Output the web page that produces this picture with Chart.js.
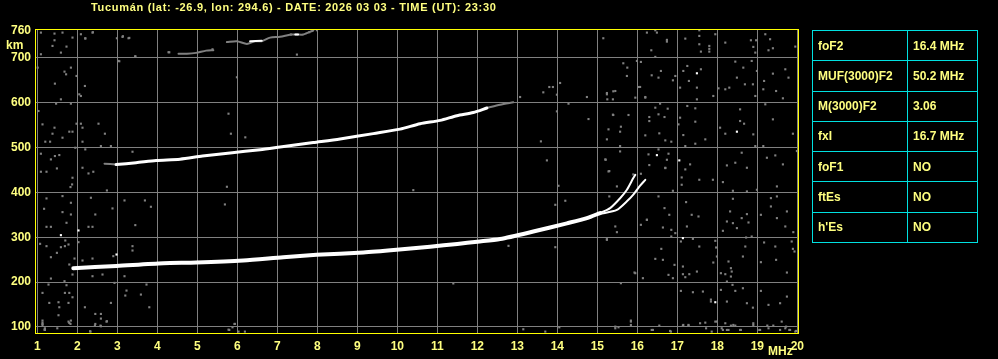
<!DOCTYPE html>
<html>
<head>
<meta charset="utf-8">
<title>Ionogram Tucumán</title>
<script src="https://cdn.jsdelivr.net/npm/chart.js@4.4.1/dist/chart.umd.min.js"></script>
<style>
  body { margin: 0; background: #000; width: 998px; height: 359px; overflow: hidden; position: relative;
         font-family: "Liberation Sans", Arial, sans-serif; font-weight: bold; color: #ffff80; }
  canvas { position: absolute; left: 0; top: 0; }
  .lbl { position: absolute; white-space: nowrap; font-size: 12px; line-height: 14px; }
  #title { left: 91px; top: 0px; font-size: 11px; letter-spacing: 0.7px; }
  #km { left: 6px; top: 38px; }
  #mhz { left: 768px; top: 344px; }
  #params { position: absolute; left: 812px; top: 30px; border-collapse: collapse; }
  #params td { border: 1px solid #00e0e0; height: 30.25px; padding: 0 0 0 5px; font-size: 12px;
               color: #ffff80; box-sizing: border-box; }
</style>
</head>
<body>
<canvas id="ionoChart" width="998" height="359"></canvas>
<div id="title" class="lbl">Tucumán (lat: -26.9, lon: 294.6) - DATE: 2026 03 03 - TIME (UT): 23:30</div>
<div id="km" class="lbl">km</div>
<div id="mhz" class="lbl">MHz</div>
<table id="params"></table>
<script>
// axis ticks
var freqTicks = [1, 2, 3, 4, 5, 6, 7, 8, 9, 10, 11, 12, 13, 14, 15, 16, 17, 18, 19, 20];
var heightTicks = [100, 200, 300, 400, 500, 600, 700, 760];

// scaled parameters (right hand table)
var paramNames = ['foF2', 'MUF(3000)F2', 'M(3000)F2', 'fxI', 'foF1', 'ftEs', "h'Es"];
var paramValues = ['16.4 MHz', '50.2 MHz', '3.06', '16.7 MHz', 'NO', 'NO', 'NO'];

// F2 trace (first hop), MHz / km
var f2Freq = [1.9, 2.98, 4.15, 4.98, 6.15, 7.15, 7.98, 9.15, 9.98, 10.82, 11.5, 12.0, 12.57, 13.4, 14.24, 14.74, 15.07];
var f2Height = [231, 236, 242, 243.5, 248, 255.5, 260.7, 266, 272, 279, 285, 290, 296, 312.7, 331, 342.6, 354];

// the two cusps near foF2 / fxI
var oCuspFreq = [15.07, 15.32, 15.57, 15.74, 15.9, 15.95];
var oCuspHeight = [354, 365, 387, 406, 432, 439];
var xCuspFreq = [15.07, 15.49, 15.74, 15.9, 16.05, 16.2];
var xCuspHeight = [352, 361, 380, 395, 413, 428];

// second hop trace
var hop2Freq = [2.97, 3.47, 3.97, 4.57, 5.13, 5.82, 6.57, 7.07, 7.9, 8.57, 9.4, 10.07, 10.57, 11.07, 11.49, 11.9, 12.24];
var hop2Height = [462, 466, 471, 474, 481, 488, 495, 501, 511, 519, 531, 541, 553, 560.5, 571, 578, 588];
var hop2FaintFreq = [2.68, 2.97, null, 12.24, 12.57, 12.9];
var hop2FaintHeight = [464, 462, null, 588, 595.5, 600.7];

// third hop trace (faint, broken)
var hop3Freq = [4.53, 4.74, 4.97, 5.22, 5.4, null, 5.74, 5.99, 6.24, 6.45, 6.61, 6.82, 7.07, 7.34, 7.49, 7.65, 7.9];
var hop3Height = [709, 709, 711, 716, 717, null, 735, 737, 731, 737, 737, 745, 747, 752, 752, 752, 761];
var hop3BrightFreq = [6.32, 6.61, null, 7.45, 7.52];
var hop3BrightHeight = [737, 738, null, 752, 752];

// isolated bright echoes
var brightDots = [[17.49, 665.5], [18.49, 535.3], [16.49, 483], [17.05, 471.3], [17.14, 298], [17.95, 155.1],
  [2.03, 315.1], [1.59, 304.6], [2.98, 261.5]];

// background noise echoes [MHz, km]
var noiseDots = [
  [15.15, 743.6], [16.24, 756.2], [16.45, 761.4], [16.49, 756.2], [16.74, 736.1], [16.74, 740], [17.2, 742.8], [17.55, 761.4],
  [17.55, 748.8], [17.55, 730.2], [17.59, 713.8], [17.8, 726.5], [17.8, 713.8], [17.8, 720], [17.95, 752.5], [18.2, 733.9],
  [18.84, 739.1], [18.97, 739.1], [18.9, 724.3], [18.95, 711.6], [19.2, 752.5], [19.32, 741.4], [19.28, 716.8], [19.39, 721.3],
  [19.95, 725], [15.65, 687.8], [15.75, 678.1], [15.99, 693], [16.09, 690.8], [16.35, 716.8], [16.45, 702], [15.74, 659.5],
  [16.36, 661], [16.07, 635], [16.53, 655.8], [16.59, 670.7], [16.89, 649.8], [16.95, 659.5], [17.15, 670.7], [17.25, 681.8],
  [17.29, 648.4], [17.59, 674.4], [17.49, 633.5], [17.49, 607.4], [17.07, 633.5], [17.25, 592.6], [17.45, 587.4], [16.76, 586.6],
  [16.57, 597.8], [16.45, 588.8], [16.3, 568], [16.53, 574], [16.68, 568], [16.3, 559], [15.78, 572.5], [15.59, 546.4],
  [15.28, 540.5], [15.57, 535.3], [15.4, 572.5], [15.24, 618.6], [15.45, 626], [15.95, 611.2], [16.2, 611.2], [15.25, 607.4],
  [15.39, 607.4], [15.24, 518.2], [15.57, 503.3], [15.2, 473.5], [15.3, 447.5], [15.9, 440], [16.09, 441.5], [16.28, 484.7],
  [16.3, 460.9], [16.53, 495.8], [16.7, 454.9], [16.78, 486.2], [16.85, 513], [16.55, 531.6], [16.2, 527.1], [16.7, 515.9],
  [17.07, 566.5], [17.03, 551.6], [17.15, 527.8], [17.2, 503.3], [17.32, 462.4], [17.2, 451.2], [17.45, 557.6], [17.45, 508.5],
  [17.7, 518.2], [18.07, 544.2], [18.2, 530.8], [18.2, 629.8], [18.3, 633.5], [18.49, 655.8], [18.57, 559.1], [18.67, 553.1],
  [18.61, 488.4], [18.45, 466.1], [18.24, 460.1], [18.74, 454.9], [18.95, 503.3], [19.15, 503.3], [19.24, 477.2], [19.45, 482.4],
  [19.64, 462.4], [19.99, 492.1], [19.89, 530.8], [19.39, 562.8], [19.2, 596.3], [18.95, 614.9], [19.15, 629.8], [19.47, 626],
  [19.64, 609.7], [19.7, 674.4], [19.78, 655.8], [19.39, 664.7], [19.17, 648.4], [18.65, 678.1], [18.86, 693], [18.99, 670.7],
  [18.69, 640.9], [18.89, 640.9], [18.9, 529.3], [18.57, 585.1], [18.45, 691.5], [18.03, 632], [17.9, 614.9],
  [15.49, 413.3], [15.3, 391], [15.45, 324], [15.49, 311.3], [15.24, 294.2], [15.93, 221.3], [16.14, 208.7], [15.59, 197.5],
  [15.84, 114.2], [15.45, 97], [16.36, 93.3], [16.09, 327.7], [16.24, 338.9], [16.53, 391], [16.68, 364.9], [16.64, 321.7],
  [16.8, 350], [16.85, 316.5], [16.85, 301.6], [16.95, 309.1], [16.89, 403.6], [17.11, 433.3], [17.11, 417], [17.22, 378.3],
  [17.36, 350], [17.53, 346.3], [17.24, 324], [17.55, 428.1], [17.89, 428.1], [18.14, 422.9], [17.09, 290.5], [17.39, 296.4],
  [17.55, 279.3], [17.95, 292], [17.99, 257], [17.9, 243.6], [17.97, 277.1], [18.28, 245.9], [16.6, 274.1], [16.45, 251.8],
  [16.64, 249.6], [16.93, 238.4], [17.14, 234.7], [17.49, 223.5], [17.2, 210.9], [16.78, 216.1], [16.89, 208.7], [17.14, 217.6],
  [17.3, 217.6], [18.09, 219.8], [18.2, 217.6], [18.34, 212.4], [18.38, 193.8], [18.24, 201.2], [18.36, 223.5], [17.09, 180.4],
  [17.39, 177.4], [17.64, 178.9], [17.84, 156.6], [17.84, 161], [18.09, 182.6], [18.24, 156.6], [18.45, 180.4], [18.64, 186.3],
  [18.74, 152.9], [18.89, 143], [19.09, 180.4], [19.28, 149.2], [19.57, 152.9], [19.74, 167.7], [19.86, 290.5], [19.93, 268.2],
  [19.89, 274.1], [19.74, 221.3], [19.45, 279.3], [19.17, 288.3], [19.09, 244.4], [18.72, 299.4], [18.86, 301.6], [18.64, 257],
  [18.7, 279.3], [18.34, 231], [18.39, 385.7], [18.32, 357.5], [18.61, 342.6], [18.74, 351.5], [18.78, 332.9], [18.39, 331.4],
  [18.49, 320.3], [18.14, 314.3], [18.24, 335.1], [18.99, 405.8], [18.74, 402.1], [18.39, 403.6], [19.34, 387.2], [19.49, 391],
  [19.49, 413.3], [19.09, 350], [19.34, 368.6], [19.7, 324], [19.9, 311.3], [19.49, 342.6], [19.47, 249.6], [19.74, 357.5],
  [17.99, 112], [18.11, 97], [18.24, 93.3], [18.4, 104.5], [18.57, 93.3], [18.9, 108.2], [19.05, 93.3], [19.28, 97],
  [19.57, 93.3], [19.7, 97], [19.82, 93.3], [19.97, 91.1], [16.82, 91.1], [17.15, 104.5], [17.72, 97], [17.86, 89.6],
  [17.28, 104.5], [17.57, 108.2],
  [1.09, 756.2], [1.43, 754], [1.63, 756.2], [1.43, 739.1], [1.38, 726.5], [1.59, 711.6], [1.73, 725], [1.88, 745.1],
  [2.09, 752.5], [2.2, 743.6], [2.38, 756.2], [1.09, 707.9], [3.13, 746.6], [3.28, 743.6], [2.99, 743.6], [3.45, 702.7],
  [3.03, 693], [4.3, 712.3], [5.38, 719], [1.01, 678.1], [1.72, 663.2], [1.84, 678.1], [1.68, 669.2], [1.98, 659.5],
  [1.44, 642.4], [2.19, 637.2], [2.05, 618.6], [2.09, 614.9], [1.59, 607.4], [1.47, 597.8], [1.84, 597.8], [1.03, 581.4],
  [1.13, 551.6], [1.43, 544.2], [1.38, 530.8], [1.63, 521.9], [1.8, 535.3], [1.88, 535.3], [2.09, 553.1], [2.13, 544.2],
  [1.98, 553.1], [2.53, 553.1], [2.69, 530.8], [1.2, 513], [1.32, 513], [2.59, 503.3], [2.84, 503.3], [2.13, 513],
  [1.95, 499.5], [2.2, 495.8], [1.09, 486.2], [1.34, 473.5], [1.44, 481], [1.55, 483.2], [1.09, 446], [1.23, 446],
  [1.49, 453.4], [2.13, 454.9], [2.28, 442.2], [2.4, 446], [1.88, 432.6], [1.87, 417.7], [1.83, 411.8], [2.74, 404.3],
  [3.38, 490.6], [5.78, 575.4], [5.84, 530.8], [5.74, 412.5], [5.69, 373.1], [3.18, 382], [3.69, 382], [3.84, 367.9],
  [2.88, 364.2], [1.23, 386.5], [1.63, 391.7], [1.84, 376.8], [1.63, 356], [1.84, 350.7], [1.17, 363.4], [2.34, 388],
  [2.45, 350.7], [1.73, 332.2], [1.23, 323.2], [1.34, 323.2], [2.28, 323.2], [2.38, 323.2], [2.03, 289], [3.45, 327],
  [1.07, 285.3], [1.23, 280.1], [1.59, 277.8], [1.69, 280.1], [1.78, 283.8], [1.7, 292.7], [1.49, 265.2], [1.34, 255.5],
  [1.93, 252.5], [1.8, 239.2], [2.38, 252.5], [2.13, 248.1], [2.9, 257.8], [3.38, 280.1], [3.38, 270.4], [1.88, 216.9],
  [1.34, 207.9], [1.68, 202], [2.38, 213.1], [2.63, 216.9], [3.18, 213.1], [2.93, 198.2], [1.13, 175.9], [1.28, 194.5],
  [1.73, 193], [1.69, 175.9], [1.8, 175.9], [1.88, 166.2], [1.3, 153.6], [1.53, 155.1], [1.55, 143.9], [1.78, 153.6],
  [1.53, 126.1], [1.13, 114.2], [1.13, 106.7], [1.8, 108.9], [1.84, 114.2], [2.19, 143.9], [2.45, 129], [2.59, 129],
  [2.59, 118.6], [2.45, 106.7], [2.59, 101.5], [2.74, 112.7], [2.84, 153.6], [3.23, 181.1], [3.2, 170], [3.59, 172.2],
  [3.73, 194.5], [3.8, 143.9], [1.18, 94], [2.32, 90.4], [5.78, 94], [5.93, 106.7],
  [7.34, 751.8], [7.8, 757], [7.99, 761.5], [7.49, 707.2], [5.99, 656.6], [6.2, 522.7], [4.28, 712.4], [3.45, 703.5],
  [3.05, 692.3], [3.14, 748.1], [3.3, 744.4], [2.39, 757], [2.2, 742.9],
  [13.07, 612.6], [13.65, 623], [13.8, 634.9], [13.89, 634.9], [13.99, 617.8], [14.07, 643.9], [14.28, 597.7], [13.99, 580.6],
  [14.74, 612.6], [15.24, 621.5], [15.4, 625.3], [16.03, 634.9], [16.2, 612.6], [15.39, 573.2], [14.78, 563.5], [13.59, 513.7],
  [13.74, 471.3], [14.03, 414.7], [15.57, 491.3], [15.21, 472.7], [15.28, 446.7], [16.74, 472.7], [16.7, 454.1],
  [12.78, 280.8], [13.95, 277.8], [14.2, 381.3], [13.95, 372.3], [15.24, 295.7], [16.24, 338.8], [15.95, 219.8],
  [10.4, 405], [11.4, 197],
  [1.13, 109.6], [1.13, 104.4], [1.19, 93.3], [1.19, 97], [1.5, 97], [1.78, 111.9], [1.83, 106.7], [2.33, 89.6], [2.44, 103],
  [2.58, 103], [2.73, 111.9], [5.8, 93.3], [5.88, 99.2], [5.94, 106.7], [6.03, 89.6], [6.19, 89.6],
  [13.15, 94.8], [13.7, 89.6], [14.05, 99.2], [15.45, 100.7], [15.53, 99.2], [15.84, 111.9], [15.84, 104.4], [16.39, 93.3],
  [16.55, 103], [16.84, 89.6], [17.14, 103], [17.28, 103], [17.7, 109.6], [17.95, 111.9], [18.2, 108.2], [18.34, 103],
  [18.45, 103], [18.28, 93.3], [18.14, 93.3], [18.59, 93.3], [18.9, 104.4], [19.07, 93.3], [19.25, 103], [19.4, 103],
  [19.61, 111.9], [19.72, 100.7], [19.8, 93.3], [19.95, 89.6]
];

var yellow = '#ffff80';
var grey = '#808080';
var tickFont = { family: '"Liberation Sans", Arial, sans-serif', size: 12, weight: 'bold' };

function pts(xs, ys) {
    return xs.map(function (x, i) { return { x: x, y: ys[i] }; });
}
function pairPts(list) {
    return list.map(function (p) { return { x: p[0], y: p[1] }; });
}

// parameter table
var table = document.getElementById('params');
for (var i = 0; i < paramNames.length; i++) {
    var row = table.insertRow();
    var c1 = row.insertCell(); c1.textContent = paramNames[i]; c1.style.width = '95px';
    var c2 = row.insertCell(); c2.textContent = paramValues[i]; c2.style.width = '70px';
}

// yellow frame round the plot area
var framePlugin = {
    id: 'frame',
    afterDraw: function (chart) {
        var a = chart.chartArea, ctx = chart.ctx;
        ctx.save();
        ctx.strokeStyle = '#ffff00';
        ctx.lineWidth = 1;
        ctx.strokeRect(a.left - 0.5, a.top - 0.5, a.right - a.left + 1, a.bottom - a.top + 1);
        ctx.restore();
    }
};

function traceSet(data, color, width) {
    return { data: data, showLine: true, borderColor: color, borderWidth: width, pointRadius: 0,
             tension: 0.25, spanGaps: false, borderCapStyle: 'round' };
}
function dotSet(data, color) {
    return { data: data, showLine: false, pointStyle: 'rect', pointRadius: 1.5, borderWidth: 0,
             backgroundColor: color, pointHoverRadius: 0 };
}

var ionoChart = new Chart(document.getElementById('ionoChart').getContext('2d'), {
    type: 'scatter',
    data: {
        datasets: [
            traceSet(pts(f2Freq, f2Height), '#ffffff', 4),
            traceSet(pts(oCuspFreq, oCuspHeight), '#ffffff', 2),
            traceSet(pts(xCuspFreq, xCuspHeight), '#ffffff', 2),
            traceSet(pts(hop2Freq, hop2Height), '#ffffff', 3),
            traceSet(pts(hop2FaintFreq, hop2FaintHeight), grey, 2),
            traceSet(pts(hop3BrightFreq, hop3BrightHeight), '#ffffff', 2),
            traceSet(pts(hop3Freq, hop3Height), grey, 2),
            dotSet(pairPts(brightDots), '#ffffff'),
            dotSet(pairPts(noiseDots), grey)
        ]
    },
    options: {
        responsive: false,
        animation: false,
        events: [],
        layout: { padding: { top: 30, right: 200, left: 0, bottom: 0 } },
        plugins: { legend: { display: false }, tooltip: { enabled: false }, title: { display: false } },
        scales: {
            x: {
                type: 'linear',
                min: 0.9675,
                max: 20.0175,
                afterBuildTicks: function (scale) { scale.ticks = freqTicks.map(function (v) { return { value: v }; }); },
                afterFit: function (scale) { scale.height = 26; },
                grid: { color: grey, lineWidth: 1, drawTicks: false },
                border: { display: false },
                ticks: { color: yellow, font: tickFont, padding: 6, maxRotation: 0, autoSkip: false }
            },
            y: {
                type: 'linear',
                min: 86.5,
                max: 762,
                afterBuildTicks: function (scale) { scale.ticks = heightTicks.map(function (v) { return { value: v }; }); },
                afterFit: function (scale) { scale.width = 36; },
                grid: {
                    color: function (ctx) { return ctx.tick && ctx.tick.value === 760 ? 'rgba(0,0,0,0)' : grey; },
                    lineWidth: 1, drawTicks: false
                },
                border: { display: false },
                ticks: { color: yellow, font: tickFont, padding: 5, autoSkip: false }
            }
        }
    },
    plugins: [framePlugin]
});
</script>
</body>
</html>
